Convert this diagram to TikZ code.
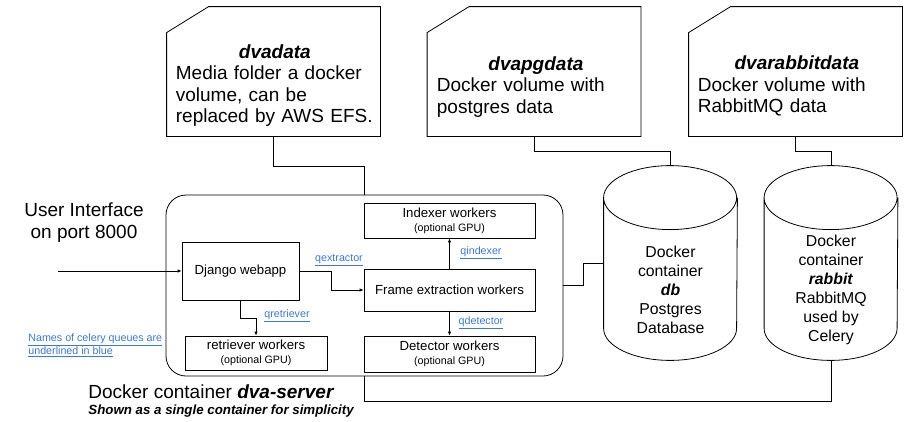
\documentclass[tikz,border=0pt]{standalone}
\usepackage{fontspec}
\setmainfont{Liberation Sans}
\usepackage{tikz}
\usetikzlibrary{arrows.meta}
\definecolor{queueblue}{HTML}{3C78D8}

\begin{document}
\begin{tikzpicture}[x=1pt, y=-1pt, line width=0.8pt,
  big/.style={font=\fontsize{19}{21.5}\selectfont},
  volume/.style={rectangle, minimum width=213pt, minimum height=129pt, inner sep=0pt},
  voltext/.style={big, text width=202pt, align=left, inner sep=0pt, anchor=west},
  worker/.style={rectangle, draw, font=\fontsize{13.2}{14}\selectfont, align=center, inner sep=0pt},
  store/.style={rectangle, minimum width=133pt, minimum height=194pt, inner sep=0pt},
  storetext/.style={font=\fontsize{15.8}{19}\selectfont, align=center, inner sep=0pt},
  queue/.style={font=\fontsize{10.7}{13}\selectfont, text=queueblue, inner sep=0pt},
  arrow/.style={-{Latex[length=4pt,width=3.5pt]}}]
\useasboundingbox (0,0) rectangle (914,421);

% volumes
\node (dvadata) at (273.5,71.5) [volume] {};
\node (dvapgdata) at (534,71.5) [volume] {};
\node (dvarabbitdata) at (795.5,71.5) [volume] {};
\foreach \v in {dvadata,dvapgdata,dvarabbitdata}
  \draw (\v.south west) -- ([yshift=-26pt]\v.north west) -- ([xshift=42pt]\v.north west) -- (\v.north east) -- (\v.south east) -- cycle;
\node (dvadatatext) at (175.5,85.5) [voltext] {\centering\textbf{\textit{dvadata}}\hspace*{4pt}\par\raggedright Media folder a docker\\volume, can be\\replaced by AWS EFS.};
\node (dvapgdatatext) at (436.5,87) [voltext] {\centering\textbf{\textit{dvapgdata}}\hspace*{4pt}\par\raggedright Docker volume with\\postgres data};
\node (dvarabbitdatatext) at (697.5,86) [voltext] {\centering\textbf{\textit{dvarabbitdata}}\hspace*{4pt}\par\raggedright Docker volume with\\RabbitMQ data};

% server container
\node (server) at (364.5,285.5) [rectangle, draw, rounded corners=20pt, minimum width=397pt, minimum height=181pt] {};
\node (django) at (240.5,271) [worker, minimum width=117pt, minimum height=58pt] {Django webapp};
\node (frame) at (449.5,290) [worker, minimum width=171pt, minimum height=42pt] {Frame extraction workers};
\node (indexer) at (449.5,220.5) [worker, minimum width=171pt, minimum height=35pt] {Indexer workers\\{\fontsize{10.7}{12}\selectfont (optional GPU)}};
\node (detector) at (449.5,354) [worker, minimum width=171pt, minimum height=36pt] {Detector workers\\{\fontsize{10.7}{12}\selectfont (optional GPU)}};
\node (retriever) at (256,353) [worker, minimum width=142pt, minimum height=34pt] {retriever workers\\{\fontsize{10.7}{12}\selectfont (optional GPU)}};

% databases
\node (db) at (670.5,263) [store] {};
\node (rabbit) at (831,263) [store] {};
\foreach \c in {db,rabbit}
  \draw ([yshift=-32pt]\c.north west) arc[start angle=180, end angle=-180, x radius=66.5pt, y radius=32pt]
    -- ([yshift=32pt]\c.south west) arc[start angle=180, end angle=360, x radius=66.5pt, y radius=32pt]
    -- ([yshift=-32pt]\c.north east);
\node (dblabel) at (670.5,290) [storetext] {Docker\\container\\\textbf{\textit{db}}\\Postgres\\Database};
\node (rabbitlabel) at (831,289.5) [storetext] {Docker\\container\\\textbf{\textit{rabbit}}\\RabbitMQ\\used by\\Celery};

% links
\draw (dvadata.south) -- ++(0,30) -| (server.north);
\draw (dvapgdata.south) -- ++(0,15) -| (db.north);
\draw (dvarabbitdata.south) -- ++(0,15) -| (rabbit.north);
\draw (server.east) -- ++(20,0) |- (db.west);
\draw (rabbit.south) -- ++(0,41) -| (server.south);

% queues
\coordinate (uiport) at (58,271);
\draw [arrow] (uiport) -- (django.west);
\draw [arrow] (django.east) -- ++(32,0) |- (frame.west);
\draw [arrow] (frame.north) -- (indexer.south);
\draw [arrow] (frame.south) -- (detector.north);
\draw [arrow] (django.south) -- ++(0,18) -| (retriever.north);
\node (qextractor) at (339,260) [queue] {\underline{qextractor}};
\node (qindexer) at (481,253) [queue] {\underline{qindexer}};
\node (qdetector) at (481,323) [queue] {\underline{qdetector}};
\node (qretriever) at (287,316) [queue] {\underline{qretriever}};

% texts
\node (ui) at (84,222.5) [big, align=center] {User Interface\\on port 8000};
\node (note) at (28,345) [queue, anchor=west, align=left] {\underline{Names of celery queues are}\\\underline{underlined in blue}};
\node (servername) at (88,392) [big, anchor=west, inner sep=0pt] {Docker container \textbf{\textit{dva-server}}};
\node (servernote) at (88,411) [anchor=west, inner sep=0pt, font=\fontsize{13.3}{15}\selectfont\bfseries\itshape] {Shown as a single container for simplicity};
\end{tikzpicture}
\end{document}
